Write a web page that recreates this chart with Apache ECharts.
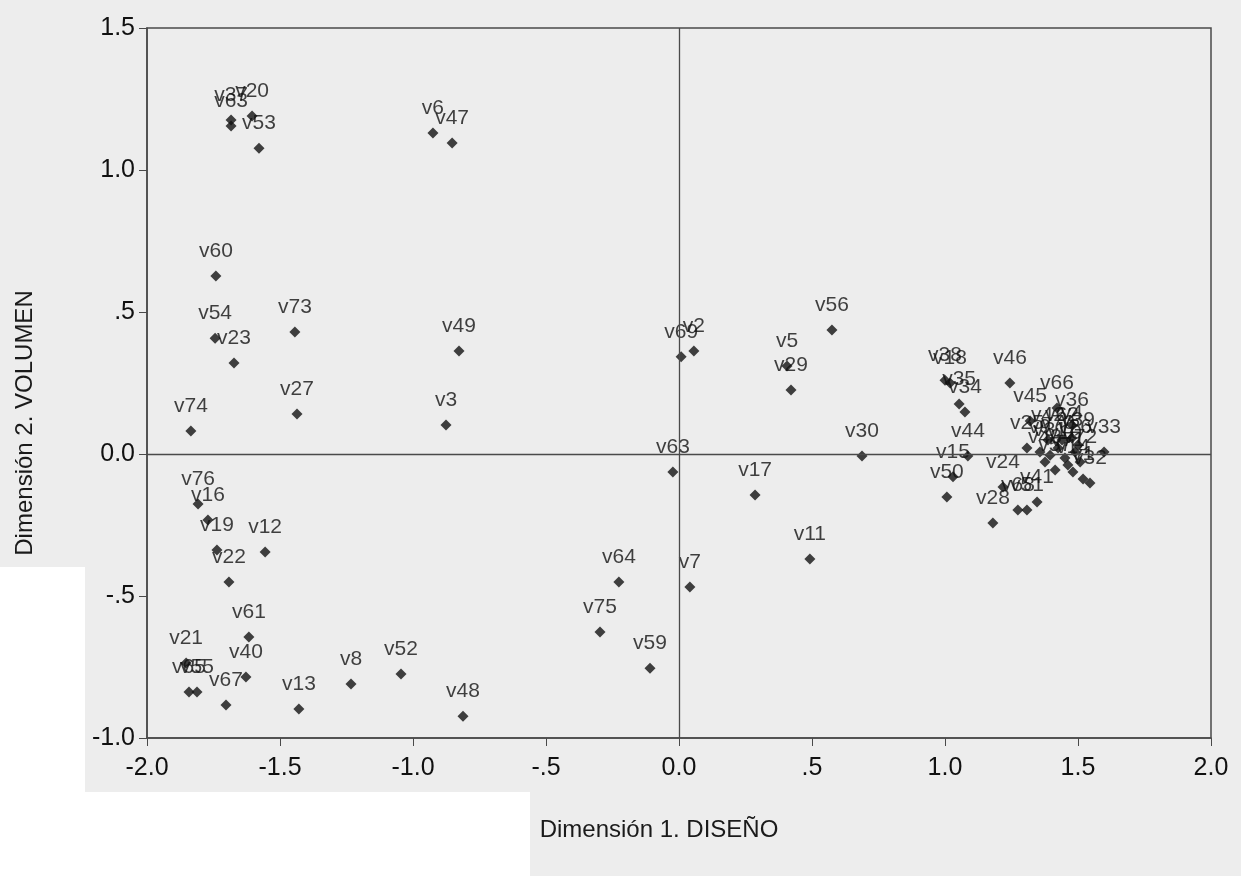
<!DOCTYPE html>
<html>
<head>
<meta charset="utf-8">
<script src="https://cdn.jsdelivr.net/npm/echarts@6/dist/echarts.min.js"></script>
<style>
  html, body { margin: 0; padding: 0; background: #ededed; }
  #chart { width: 1241px; height: 876px; }
</style>
</head>
<body>
<div id="chart"></div>
<script>
// point labels and coordinates (Dimensión 1, Dimensión 2)
var names = [
  'v37', 'v63', 'v20', 'v53', 'v6', 'v47', 'v60', 'v54', 'v23', 'v73', 'v27', 'v74', 'v49', 'v3',
  'v76', 'v16', 'v19', 'v22', 'v12', 'v61', 'v40', 'v21', 'v65', 'v55', 'v67', 'v13', 'v8', 'v52', 'v48',
  'v69', 'v2', 'v63', 'v17', 'v64', 'v7', 'v75', 'v59', 'v11', 'v5', 'v29', 'v56', 'v30',
  'v38', 'v18', 'v35', 'v34', 'v46', 'v44', 'v15', 'v50', 'v28',
  'v45', 'v66', 'v36', 'v4', 'v25', 'v26', 'v33', 'v32', 'v24', 'v68', 'v51', 'v41',
  'v42', 'v70', 'v10', 'v43', 'v57', 'v71', 'v72', 'v9', 'v31', 'v62', 'v39', 'v14', 'v1'
];
var dim1 = [
  -1.684, -1.684, -1.605, -1.579, -0.925, -0.853, -1.741, -1.744, -1.673, -1.444, -1.436, -1.835, -0.827, -0.876,
  -1.808, -1.771, -1.737, -1.692, -1.556, -1.617, -1.628, -1.853, -1.842, -1.812, -1.703, -1.429, -1.233, -1.045, -0.812,
  0.008, 0.056, -0.023, 0.286, -0.226, 0.041, -0.297, -0.109, 0.492, 0.406, 0.421, 0.575, 0.688,
  1.000, 1.019, 1.053, 1.075, 1.244, 1.086, 1.030, 1.007, 1.180,
  1.320, 1.421, 1.477, 1.477, 1.308, 1.489, 1.598, 1.545, 1.218, 1.274, 1.308, 1.346,
  1.387, 1.425, 1.451, 1.376, 1.414, 1.462, 1.508, 1.357, 1.395, 1.440, 1.500, 1.481, 1.519
];
var dim2 = [
  1.176, 1.155, 1.190, 1.077, 1.130, 1.095, 0.627, 0.408, 0.320, 0.430, 0.141, 0.081, 0.363, 0.102,
  -0.176, -0.232, -0.338, -0.451, -0.345, -0.644, -0.785, -0.736, -0.838, -0.838, -0.884, -0.898, -0.810, -0.775, -0.923,
  0.342, 0.363, -0.063, -0.144, -0.451, -0.468, -0.627, -0.754, -0.370, 0.310, 0.225, 0.437, -0.007,
  0.260, 0.250, 0.176, 0.148, 0.250, -0.007, -0.080, -0.151, -0.243,
  0.116, 0.162, 0.102, 0.056, 0.021, 0.007, 0.007, -0.102, -0.116, -0.197, -0.197, -0.169,
  0.049, 0.021, -0.014, -0.028, -0.056, -0.039, -0.028, 0.007, -0.004, 0.049, 0.032, -0.063, -0.088
];
var xTicks = ['-2.0', '-1.5', '-1.0', '-.5', '0.0', '.5', '1.0', '1.5', '2.0'];
var yTicks = ['-1.0', '-.5', '0.0', '.5', '1.0', '1.5'];

var points = names.map(function (n, i) {
  return { name: n, value: [dim1[i], dim2[i]] };
});

var chart = echarts.init(document.getElementById('chart'));
var option = {
  backgroundColor: '#ededed',
  animation: false,
  graphic: [
    { type: 'rect', left: 0, top: 567, shape: { width: 85, height: 230 }, style: { fill: '#ffffff' }, z: -10 },
    { type: 'rect', left: 0, top: 792, shape: { width: 530, height: 84 }, style: { fill: '#ffffff' }, z: -10 }
  ],
  grid: {
    left: 147, right: 30, top: 28, bottom: 138,
    show: true, borderColor: '#4a4a4a', borderWidth: 1.5, backgroundColor: 'transparent'
  },
  xAxis: {
    type: 'value', min: -2, max: 2, interval: 0.5,
    name: 'Dimensión 1. DISEÑO', nameLocation: 'middle', nameGap: 80,
    nameTextStyle: { fontFamily: 'Liberation Sans', fontSize: 24, color: '#1a1a1a', padding: [0, 40, 0, 0] },
    axisLine: { onZero: false, lineStyle: { color: '#4a4a4a', width: 1.5 } },
    axisTick: { length: 8, lineStyle: { color: '#4a4a4a' } },
    axisLabel: {
      fontFamily: 'Liberation Sans', fontSize: 25, color: '#111', margin: 18,
      formatter: function (v) { return xTicks[Math.round((v + 2) / 0.5)]; }
    },
    splitLine: { show: false }
  },
  yAxis: {
    type: 'value', min: -1, max: 1.5, interval: 0.5,
    name: 'Dimensión 2. VOLUMEN', nameLocation: 'middle', nameGap: 110,
    nameTextStyle: { fontFamily: 'Liberation Sans', fontSize: 24, color: '#1a1a1a', padding: [0, 80, 0, 0] },
    axisLine: { onZero: false, lineStyle: { color: '#4a4a4a', width: 1.5 } },
    axisTick: { length: 8, lineStyle: { color: '#4a4a4a' } },
    axisLabel: {
      fontFamily: 'Liberation Sans', fontSize: 25, color: '#111', margin: 12,
      formatter: function (v) { return yTicks[Math.round((v + 1) / 0.5)]; }
    },
    splitLine: { show: false }
  },
  series: [
    {
      type: 'scatter',
      symbol: 'diamond',
      symbolSize: 11,
      itemStyle: { color: '#111' },
      label: {
        show: true, position: 'top', distance: 9,
        formatter: '{b}',
        fontFamily: 'Liberation Sans', fontSize: 21, color: '#111'
      },
      data: points,
      markLine: {
        silent: true, symbol: 'none', label: { show: false },
        lineStyle: { color: '#4a4a4a', width: 1.3, type: 'solid' },
        data: [{ xAxis: 0 }, { yAxis: 0 }]
      }
    }
  ]
};
chart.setOption(option);
</script>
</body>
</html>
